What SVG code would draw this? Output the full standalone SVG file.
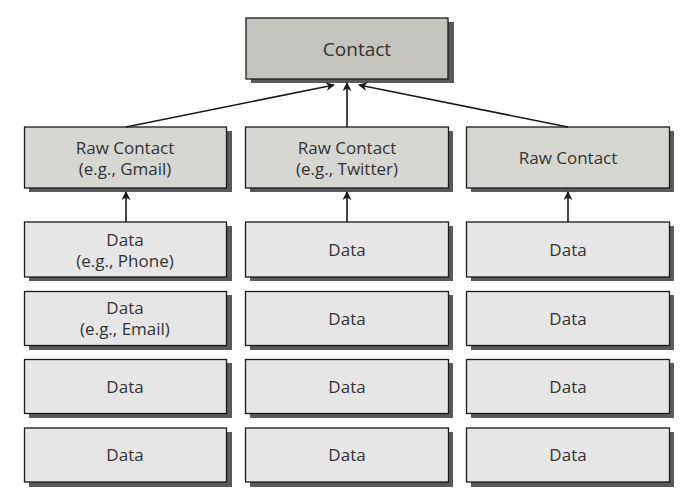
<svg xmlns="http://www.w3.org/2000/svg" width="693" height="501" viewBox="0 0 693 501">
<defs>
<style>
.sh{fill:#5a5a5a}
.box{stroke:#1a1a1a;stroke-width:1.3}
.c{fill:#c4c3be}
.r{fill:#d6d6d2}
.d{fill:#e6e6e6}
text{font-family:"Open Sans",Lato,sans-serif;font-size:17px;fill:#333;text-anchor:middle}
.big{font-size:19px}
.ln{stroke:#1a1a1a;stroke-width:1.6;fill:none}
</style>
<marker id="ah" viewBox="0 0 10 10" refX="9" refY="5" markerWidth="9" markerHeight="9" markerUnits="userSpaceOnUse" orient="auto">
<path d="M0,0 L10,5 L0,10 L3,5 Z" fill="#1a1a1a"/>
</marker>
</defs>
<rect width="693" height="501" fill="#fff"/>
<g id="contact">
<rect class="sh" x="251" y="22" width="203" height="61"/>
<rect class="box c" x="246" y="18" width="202" height="61"/>
<text class="big" x="357" y="56">Contact</text>
</g>
<g id="raw1">
<rect class="sh" x="29" y="131" width="203" height="61"/>
<rect class="box r" x="24.5" y="127" width="202" height="61"/>
<text x="125" y="154">Raw Contact</text>
<text x="125" y="175">(e.g., Gmail)</text>
</g>
<g id="raw2">
<rect class="sh" x="250" y="131" width="203" height="61"/>
<rect class="box r" x="245.5" y="127" width="203" height="61"/>
<text x="347" y="154">Raw Contact</text>
<text x="347" y="175">(e.g., Twitter)</text>
</g>
<g id="raw3">
<rect class="sh" x="471" y="131" width="203" height="61"/>
<rect class="box r" x="466.5" y="127" width="203" height="61"/>
<text x="568" y="164">Raw Contact</text>
</g>
<g id="d11"><rect class="sh" x="29" y="226" width="203" height="55"/><rect class="box d" x="24.5" y="222" width="202" height="55"/><text x="125" y="246">Data</text><text x="125" y="267">(e.g., Phone)</text></g>
<g id="d12"><rect class="sh" x="29" y="295" width="203" height="55"/><rect class="box d" x="24.5" y="291.5" width="202" height="54"/><text x="125" y="314">Data</text><text x="125" y="335">(e.g., Email)</text></g>
<g id="d13"><rect class="sh" x="29" y="363" width="203" height="55"/><rect class="box d" x="24.5" y="359.5" width="202" height="54"/><text x="125" y="393">Data</text></g>
<g id="d14"><rect class="sh" x="29" y="432" width="203" height="55"/><rect class="box d" x="24.5" y="428" width="202" height="54"/><text x="125" y="461">Data</text></g>
<g id="d21"><rect class="sh" x="250" y="226" width="203" height="55"/><rect class="box d" x="245.5" y="222" width="203" height="55"/><text x="347" y="256">Data</text></g>
<g id="d22"><rect class="sh" x="250" y="295" width="203" height="55"/><rect class="box d" x="245.5" y="291.5" width="203" height="54"/><text x="347" y="325">Data</text></g>
<g id="d23"><rect class="sh" x="250" y="363" width="203" height="55"/><rect class="box d" x="245.5" y="359.5" width="203" height="54"/><text x="347" y="393">Data</text></g>
<g id="d24"><rect class="sh" x="250" y="432" width="203" height="55"/><rect class="box d" x="245.5" y="428" width="203" height="54"/><text x="347" y="461">Data</text></g>
<g id="d31"><rect class="sh" x="471" y="226" width="203" height="55"/><rect class="box d" x="466.5" y="222" width="203" height="55"/><text x="568" y="256">Data</text></g>
<g id="d32"><rect class="sh" x="471" y="295" width="203" height="55"/><rect class="box d" x="466.5" y="291.5" width="203" height="54"/><text x="568" y="325">Data</text></g>
<g id="d33"><rect class="sh" x="471" y="363" width="203" height="55"/><rect class="box d" x="466.5" y="359.5" width="203" height="54"/><text x="568" y="393">Data</text></g>
<g id="d34"><rect class="sh" x="471" y="432" width="203" height="55"/><rect class="box d" x="466.5" y="428" width="203" height="54"/><text x="568" y="461">Data</text></g>
<g id="connectors">
<line class="ln" x1="126" y1="127" x2="334" y2="85" marker-end="url(#ah)"/>
<line class="ln" x1="347" y1="127" x2="347" y2="83" marker-end="url(#ah)"/>
<line class="ln" x1="568" y1="127" x2="359" y2="85" marker-end="url(#ah)"/>
<line class="ln" x1="126" y1="222" x2="126" y2="192" marker-end="url(#ah)"/>
<line class="ln" x1="347" y1="222" x2="347" y2="192" marker-end="url(#ah)"/>
<line class="ln" x1="568" y1="222" x2="568" y2="192" marker-end="url(#ah)"/>
</g>
</svg>
